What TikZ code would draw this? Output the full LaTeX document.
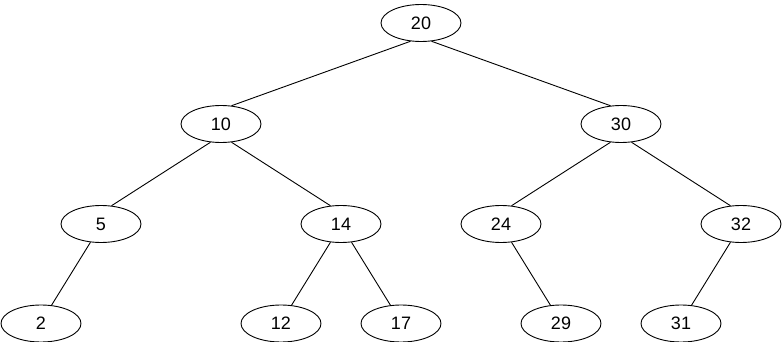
\documentclass[tikz,border=0pt]{standalone}
\usepackage{fontspec}
\setmainfont{Liberation Sans}
\usetikzlibrary{shapes.geometric}
\begin{document}
\begin{tikzpicture}[x=1pt,y=-1pt,
  tnode/.style={draw, ellipse, line width=0.9pt, minimum width=80pt, minimum height=37pt, inner sep=0pt, font=\fontsize{18}{20}\selectfont},
  edge/.style={line width=0.9pt}]
\useasboundingbox (0,0) rectangle (782,342);
\node[tnode] (n20) at (421,23) {20};
\node[tnode] (n10) at (221,124) {10};
\node[tnode] (n30) at (621,124) {30};
\node[tnode] (n5) at (101,224) {5};
\node[tnode] (n14) at (341,224) {14};
\node[tnode] (n24) at (501,224) {24};
\node[tnode] (n32) at (741,224) {32};
\node[tnode] (n2) at (41,323.5) {2};
\node[tnode] (n12) at (281,323.5) {12};
\node[tnode] (n17) at (401,323.5) {17};
\node[tnode] (n29) at (561,323.5) {29};
\node[tnode] (n31) at (681,323.5) {31};
\draw[edge] (n20.240) -- (n10.60);
\draw[edge] (n20.300) -- (n30.120);
\draw[edge] (n10.240) -- (n5.60);
\draw[edge] (n10.300) -- (n14.120);
\draw[edge] (n30.240) -- (n24.60);
\draw[edge] (n30.300) -- (n32.120);
\draw[edge] (n5.240) -- (n2.60);
\draw[edge] (n14.240) -- (n12.60);
\draw[edge] (n14.300) -- (n17.120);
\draw[edge] (n24.300) -- (n29.120);
\draw[edge] (n32.240) -- (n31.60);
\end{tikzpicture}
\end{document}
